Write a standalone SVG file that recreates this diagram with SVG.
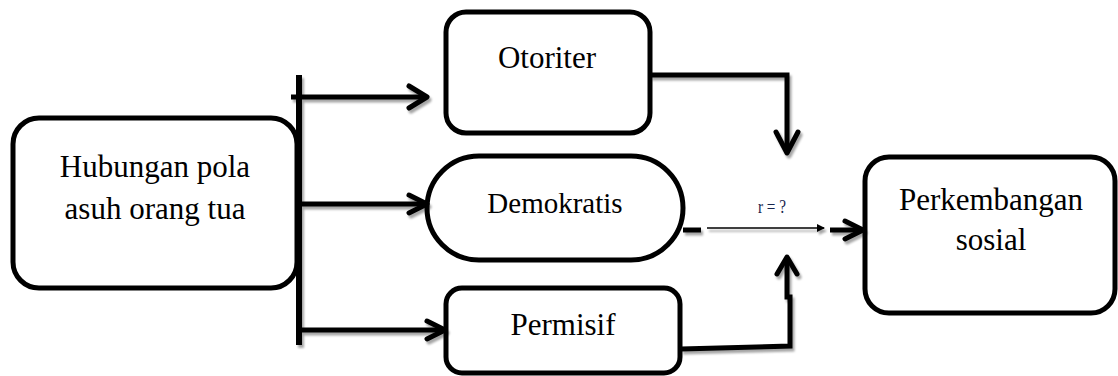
<svg xmlns="http://www.w3.org/2000/svg" width="1118" height="376" viewBox="0 0 1118 376">
<style>
.box{fill:#fff;stroke:#000;stroke-width:5}
.t{font-family:"Liberation Serif","Times New Roman",serif;font-size:31px;fill:#000;text-anchor:middle}
.ln{fill:none;stroke:#000;stroke-width:5;stroke-linejoin:miter}
.hd{fill:none;stroke:#000;stroke-width:5;stroke-linecap:round;stroke-linejoin:round}
</style>
<defs>
<filter id="sh" x="-10%" y="-10%" width="130%" height="130%">
<feDropShadow dx="2" dy="3" stdDeviation="1" flood-color="#000" flood-opacity="0.35"/>
</filter>
<marker id="sm" markerWidth="8" markerHeight="8" refX="7" refY="4" orient="auto" markerUnits="userSpaceOnUse">
<path d="M0,0 L8,4 L0,8 Z" fill="#000"/>
</marker>
</defs>
<g id="node-hubungan">
<rect class="box" x="13" y="118" width="284" height="170" rx="26"/>
<text class="t" x="155" y="177">Hubungan pola</text>
<text class="t" x="155" y="219">asuh orang tua</text>
</g>
<g id="node-otoriter">
<rect class="box" x="446" y="12" width="204" height="121" rx="20"/>
<text class="t" x="547" y="68">Otoriter</text>
</g>
<g id="node-demokratis">
<rect class="box" x="427" y="156" width="256" height="104" rx="52"/>
<text class="t" x="555" y="213" style="font-size:29px">Demokratis</text>
</g>
<g id="node-permisif">
<rect class="box" x="446" y="288" width="234" height="85" rx="16"/>
<text class="t" x="563" y="335">Permisif</text>
</g>
<g id="node-perkembangan">
<rect class="box" x="865" y="157" width="250" height="156" rx="24"/>
<text class="t" x="991" y="210">Perkembangan</text>
<text class="t" x="991" y="250">sosial</text>
</g>
<g id="connectors" filter="url(#sh)">
<line class="ln" x1="299" y1="75" x2="299" y2="345" style="stroke-width:6"/>
<line class="ln" x1="291" y1="97" x2="425" y2="97"/>
<polyline class="hd" points="409,86 427,97 409,108"/>
<line class="ln" x1="299" y1="204" x2="425" y2="204"/>
<polyline class="hd" points="409,195 427,204 409,213"/>
<line class="ln" x1="297" y1="330" x2="443" y2="330"/>
<polyline class="hd" points="427,321 445,330 427,339"/>
<polyline class="ln" points="650,75 787,75 787,151"/>
<polyline class="hd" points="776,132 787,153 798,132"/>
<polyline class="ln" points="681,349 790,346 790,297 787,297 787,260"/>
<polyline class="hd" points="777,274 787,257 797,274"/>
<line class="ln" x1="683" y1="230" x2="701" y2="230"/>
<line x1="707" y1="228" x2="824" y2="228" stroke="#000" stroke-width="1.5" marker-end="url(#sm)"/>
<line class="ln" x1="830" y1="230" x2="861" y2="230"/>
<polyline class="hd" points="845,221 863,230 845,239"/>
</g>
<text x="758" y="213" textLength="28" lengthAdjust="spacingAndGlyphs" style="font-family:'Liberation Serif','Times New Roman',serif;font-size:19px;fill:#17254d">r = ?</text>
</svg>
